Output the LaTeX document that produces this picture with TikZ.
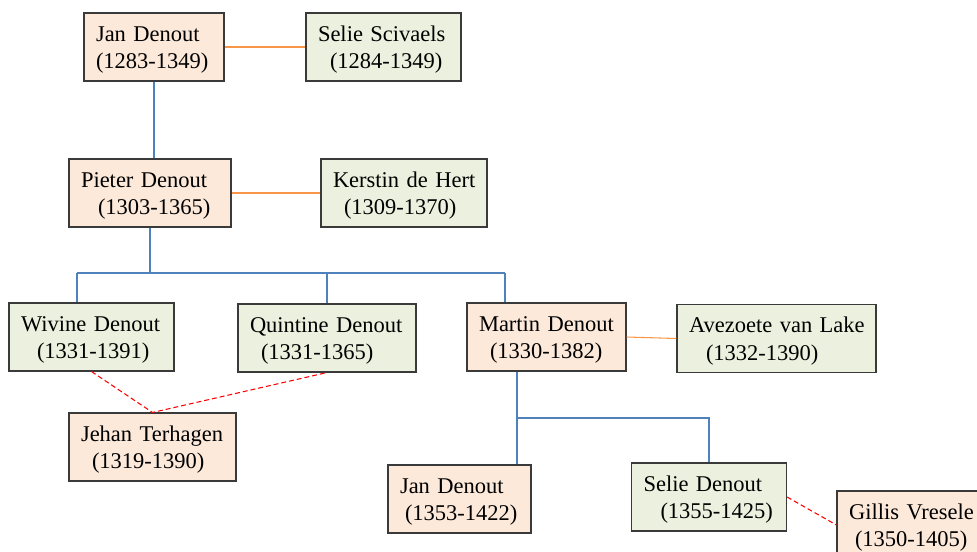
\documentclass[tikz,border=0pt]{standalone}
\usepackage{xcolor}
\usepackage{fontspec}
\setmainfont{Liberation Serif}

\definecolor{manfill}{HTML}{FCE9DA}
\definecolor{womanfill}{HTML}{EBF1DE}
\definecolor{framegray}{HTML}{3A3A3A}
\definecolor{kidblue}{HTML}{4F81BD}
\definecolor{spouseorange}{HTML}{F79646}

\tikzset{
  person/.style={rectangle,draw=framegray,line width=0.6pt,inner xsep=0.24cm,inner ysep=0pt,
    minimum height=1.36cm,text height=10pt,text depth=16.8pt,align=left,
    font=\fontsize{12.8}{15.9}\selectfont},
  man/.style={person,fill=manfill},
  woman/.style={person,fill=womanfill},
  kidline/.style={draw=kidblue,line width=0.6pt},
  spouse/.style={draw=spouseorange,line width=0.6pt},
  affair/.style={draw=red,line width=0.6pt,dash pattern=on 2.8pt off 1.7pt},
}

\begin{document}
\begin{tikzpicture}
            \useasboundingbox (0,0) rectangle (19.54,11.02);

            \node[man,text width=2.32cm]   (jan1)     at ( 3.08,10.08) {Jan~Denout\\(1283-1349)};
            \node[woman,text width=2.62cm] (selie1)   at ( 7.67,10.08) {Selie~Scivaels\\\hspace*{0.24cm}(1284-1349)};
            \node[man,text width=2.76cm]   (pieter)   at ( 3.00, 7.16) {Pieter~Denout\\\hspace*{0.34cm}(1303-1365)};
            \node[woman,text width=2.84cm] (kerstin)  at ( 8.08, 7.16) {Kerstin~de~Hert\\\hspace*{0.22cm}(1309-1370)};
            \node[woman,text width=2.82cm] (wivine)   at ( 1.83, 4.28) {Wivine~Denout\\\hspace*{0.32cm}(1331-1391)};
            \node[woman,text width=3.08cm] (quintine) at ( 6.54, 4.26) {Quintine~Denout\\\hspace*{0.22cm}(1331-1365)};
            \node[man,text width=2.86cm]   (jehan)    at ( 3.05, 2.08) {Jehan~Terhagen\\\hspace*{0.22cm}(1319-1390)};
            \node[man,text width=2.70cm]   (martin)   at (10.93, 4.28) {Martin~Denout\\\hspace*{0.22cm}(1330-1382)};
            \node[woman,text width=3.50cm] (avezoete) at (15.53, 4.25) {Avezoete~van~Lake\\\hspace*{0.34cm}(1332-1390)};
            \node[man,text width=2.38cm]   (jan2)     at ( 9.19, 1.04) {Jan~Denout\\\hspace*{0.10cm}(1353-1422)};
            \node[woman,text width=2.62cm] (selie2)   at (14.18, 1.08) {Selie~Denout\\\hspace*{0.34cm}(1355-1425)};
            \node[man,text width=2.62cm]   (gillis)   at (18.29, 0.52) {Gillis~Vresele\\\hspace*{0.12cm}(1350-1405)};

            \coordinate (bar1w) at ( 1.54, 5.56);
            \coordinate (bar1e) at (10.10, 5.56);
            \coordinate (bar2w) at (10.34, 2.66);

            \draw[spouse] (jan1) -- (selie1);
            \draw[spouse] (pieter) -- (kerstin);
            \draw[spouse] (martin.east) -- (avezoete.west);

            \draw[kidline] (jan1.south) -- (jan1.south |- pieter.north);
            \draw[kidline] (pieter.south) -- (pieter.south |- bar1w);
            \draw[kidline] (bar1w) -- (bar1e);
            \draw[kidline] (bar1w) -- (bar1w |- wivine.north);
            \draw[kidline] (quintine.north) -- (quintine.north |- bar1w);
            \draw[kidline] (bar1e) -- (bar1e |- martin.north);
            \draw[kidline] (bar2w |- martin.south) -- (bar2w |- jan2.north);
            \draw[kidline] (bar2w) -- (bar2w -| selie2.north) -- (selie2.north);

            \draw[affair] (wivine.south) -- (jehan.north) -- (quintine.south);
            \draw[affair] (selie2.east) -- (gillis.west);
          \end{tikzpicture}
\end{document}
